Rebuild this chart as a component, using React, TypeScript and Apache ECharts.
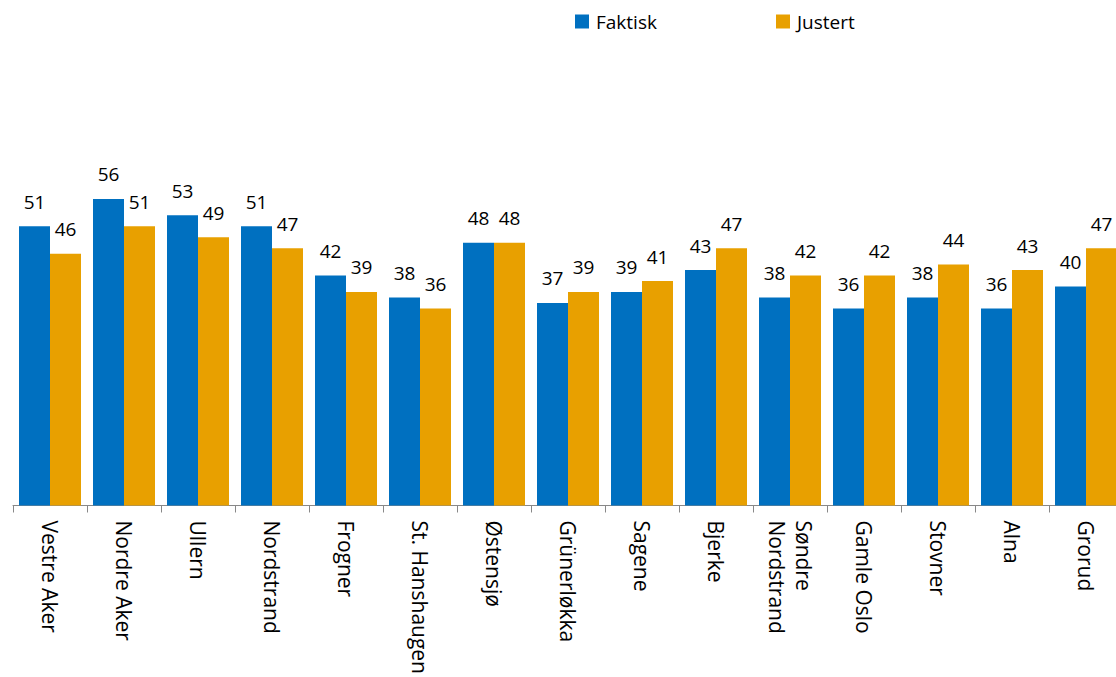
import React, { useEffect, useRef } from "react";
import * as echarts from "echarts";

const categories = [
  "Vestre Aker",
  "Nordre Aker",
  "Ullern",
  "Nordstrand",
  "Frogner",
  "St. Hanshaugen",
  "Østensjø",
  "Grünerløkka",
  "Sagene",
  "Bjerke",
  "Søndre\nNordstrand",
  "Gamle Oslo",
  "Stovner",
  "Alna",
  "Grorud",
];
const faktisk = [51, 56, 53, 51, 42, 38, 48, 37, 39, 43, 38, 36, 38, 36, 40];
const justert = [46, 51, 49, 47, 39, 36, 48, 39, 41, 47, 42, 42, 44, 43, 47];

const FONT = "'Open Sans', 'Noto Sans', sans-serif";

export default function App() {
  const ref = useRef<HTMLDivElement>(null);
  useEffect(() => {
    if (!ref.current) return;
    const chart = echarts.init(ref.current, undefined, { renderer: "svg" });
    const labelStyle = {
      show: true,
      position: "top" as const,
      distance: 15,
      color: "#000",
      fontFamily: FONT,
      fontSize: 19,
    };
    chart.setOption({
      animation: false,
      legend: [
        {
          data: ["Faktisk"],
          left: 570,
          top: 7,
          itemWidth: 14,
          itemHeight: 14,
          icon: "rect",
          textStyle: { fontFamily: FONT, fontSize: 19, color: "#000", padding: [0, 0, 0, 2] },
        },
        {
          data: ["Justert"],
          left: 771,
          top: 7,
          itemWidth: 14,
          itemHeight: 14,
          icon: "rect",
          textStyle: { fontFamily: FONT, fontSize: 19, color: "#000", padding: [0, 0, 0, 2] },
        },
      ],
      grid: { left: 13, width: 1110, top: 177, bottom: 165, containLabel: false },
      xAxis: {
        type: "category",
        data: categories,
        boundaryGap: true,
        axisLine: { show: true, lineStyle: { color: "#888888", width: 1 } },
        axisTick: { show: true, length: 7, lineStyle: { color: "#888888", width: 1 } },
        axisLabel: {
          interval: 0,
          rotate: -90,
          margin: 15,
          color: "#000",
          fontFamily: FONT,
          fontSize: 21,
          lineHeight: 27,
        },
      },
      yAxis: {
        type: "value",
        min: 0,
        max: 60,
        show: false,
        splitLine: { show: false },
      },
      series: [
        {
          name: "Faktisk",
          type: "bar",
          data: faktisk,
          barWidth: 31,
          barGap: "0%",
          itemStyle: { color: "#0070C0" },
          label: labelStyle,
        },
        {
          name: "Justert",
          type: "bar",
          data: justert,
          barWidth: 31,
          barGap: "0%",
          itemStyle: { color: "#E8A000" },
          label: labelStyle,
        },
      ],
    });
    return () => chart.dispose();
  }, []);
  return (
    <div
      style={{
        position: "fixed",
        left: 0,
        top: 0,
        width: 1116,
        height: 677,
        overflow: "hidden",
        background: "#fff",
      }}
    >
      <div ref={ref} style={{ width: 1130, height: 677 }} />
    </div>
  );
}
